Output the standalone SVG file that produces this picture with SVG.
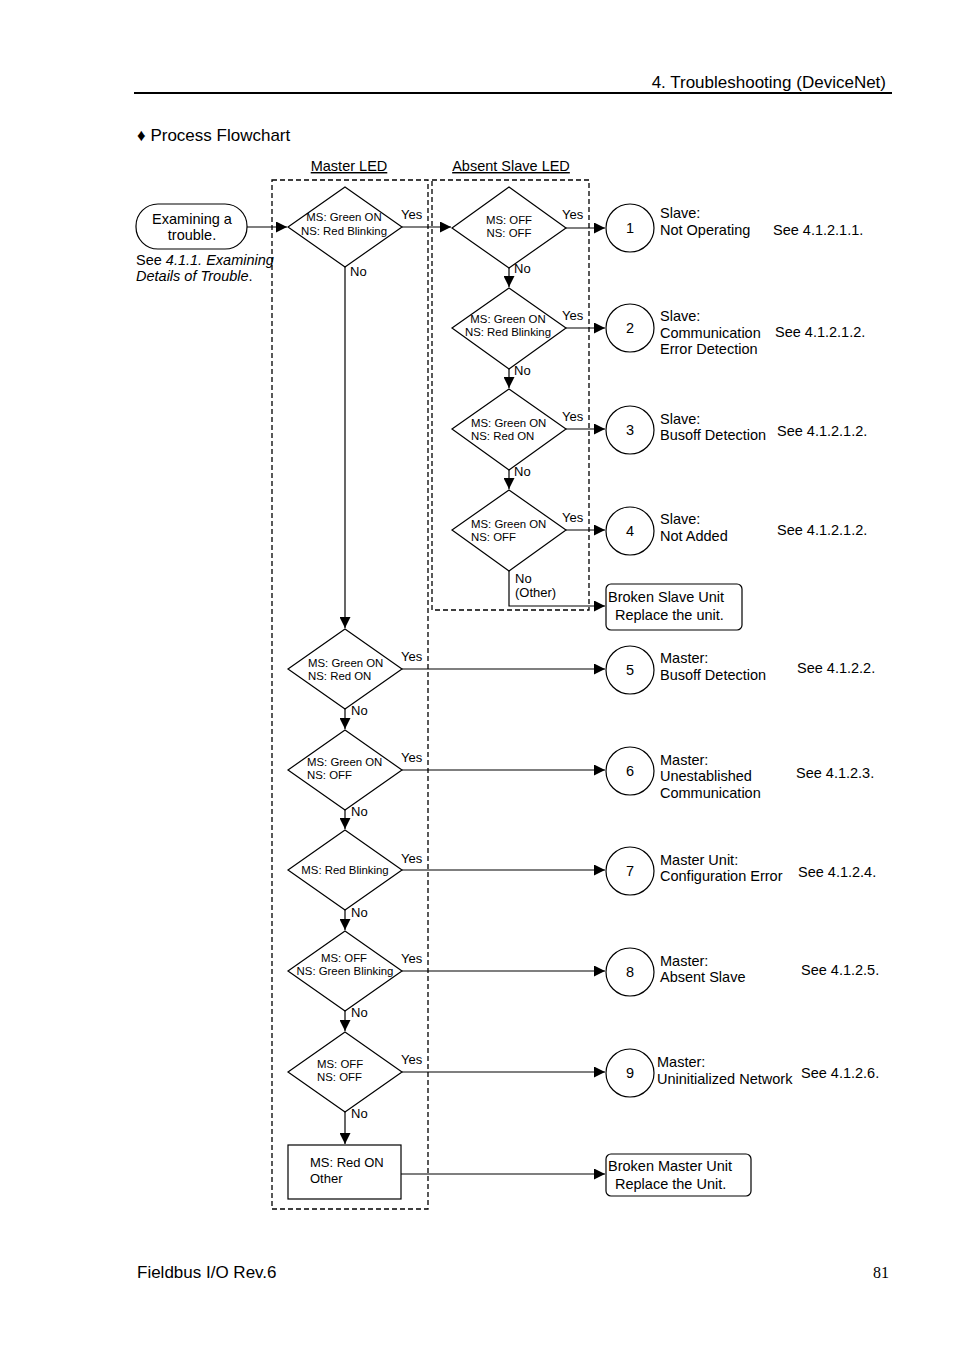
<svg xmlns="http://www.w3.org/2000/svg" width="954" height="1351" viewBox="0 0 954 1351">
<defs>
<marker id="ah" markerWidth="12" markerHeight="11" refX="11" refY="5.5" orient="auto" markerUnits="userSpaceOnUse">
<path d="M0,0 L11,5.5 L0,11 Z" fill="#000"/>
</marker>
</defs>
<style>
text{font-family:"Liberation Sans",Arial,sans-serif;fill:#000}
.h{font-size:17px}
.m{font-size:14.5px}
.d{font-size:11.4px}
.yn{font-size:13px}
.shape{fill:#fff;stroke:#000;stroke-width:1.2}
.conn{fill:none;stroke:#000;stroke-width:1.2;marker-end:url(#ah)}
.plain{fill:none;stroke:#000;stroke-width:1.2}
.dash{fill:none;stroke:#000;stroke-width:1.3;stroke-dasharray:5,3}
.c{text-anchor:middle}
</style>
<rect width="954" height="1351" fill="#fff"/>

<!-- header / footer -->
<text class="h" x="886" y="88" text-anchor="end">4. Troubleshooting (DeviceNet)</text>
<line x1="134" y1="93" x2="892" y2="93" stroke="#000" stroke-width="2"/>
<text class="h" x="137" y="141">♦ Process Flowchart</text>
<text class="h" x="137" y="1278">Fieldbus I/O Rev.6</text>
<text x="889" y="1278" text-anchor="end" style="font-family:'Liberation Serif','Times New Roman',serif;font-size:16px">81</text>

<!-- group boxes -->
<g id="group-master">
<rect class="dash" x="272" y="180" width="156" height="1029"/>
<text class="m c" x="349" y="171" text-decoration="underline">Master LED</text>
</g>
<g id="group-slave">
<rect class="dash" x="432" y="180" width="157" height="430"/>
<text class="m c" x="511" y="171" text-decoration="underline">Absent Slave LED</text>
</g>

<!-- connectors -->
<g id="connectors">
<line class="conn" x1="247" y1="227" x2="287" y2="227"/>
<line class="conn" x1="402" y1="227" x2="451" y2="227"/>
<line class="conn" x1="345" y1="267" x2="345" y2="628"/>
<line class="conn" x1="566" y1="228" x2="605" y2="228"/>
<line class="conn" x1="509" y1="268" x2="509" y2="287"/>
<line class="conn" x1="566" y1="328" x2="605" y2="328"/>
<line class="conn" x1="509" y1="369" x2="509" y2="388"/>
<line class="conn" x1="566" y1="429" x2="605" y2="429"/>
<line class="conn" x1="509" y1="470" x2="509" y2="489"/>
<line class="conn" x1="566" y1="530" x2="605" y2="530"/>
<polyline class="conn" points="509,571 509,606 605,606"/>
<line class="conn" x1="402" y1="669" x2="605" y2="669"/>
<line class="conn" x1="345" y1="709" x2="345" y2="729"/>
<line class="conn" x1="402" y1="770" x2="605" y2="770"/>
<line class="conn" x1="345" y1="810" x2="345" y2="829"/>
<line class="conn" x1="402" y1="870" x2="605" y2="870"/>
<line class="conn" x1="345" y1="910" x2="345" y2="930"/>
<line class="conn" x1="402" y1="971" x2="605" y2="971"/>
<line class="conn" x1="345" y1="1011" x2="345" y2="1031"/>
<line class="conn" x1="402" y1="1072" x2="605" y2="1072"/>
<line class="conn" x1="345" y1="1112" x2="345" y2="1144"/>
<line class="conn" x1="401" y1="1174" x2="605" y2="1174"/>
<g class="yn">
<text x="401" y="219">Yes</text>
<text x="350" y="276">No</text>
<text x="562" y="219">Yes</text>
<text x="514" y="273">No</text>
<text x="562" y="320">Yes</text>
<text x="514" y="375">No</text>
<text x="562" y="421">Yes</text>
<text x="514" y="476">No</text>
<text x="562" y="522">Yes</text>
<text x="515" y="583">No</text>
<text x="515" y="597">(Other)</text>
<text x="401" y="661">Yes</text>
<text x="351" y="715">No</text>
<text x="401" y="762">Yes</text>
<text x="351" y="816">No</text>
<text x="401" y="863">Yes</text>
<text x="351" y="917">No</text>
<text x="401" y="963">Yes</text>
<text x="351" y="1017">No</text>
<text x="401" y="1064">Yes</text>
<text x="351" y="1118">No</text>
</g>
</g>

<!-- start -->
<g id="start">
<rect class="shape" x="136" y="204" width="111" height="45" rx="22" ry="22"/>
<text class="m c" x="192" y="224">Examining a</text>
<text class="m c" x="192" y="240">trouble.</text>
<text class="m" x="136" y="265">See <tspan font-style="italic">4.1.1. Examining</tspan></text>
<text class="m" x="136" y="281"><tspan font-style="italic">Details of Trouble</tspan>.</text>
</g>

<!-- master diamonds -->
<g id="m1"><polygon class="shape" points="345,187 402,227 345,267 288,227"/>
<text class="d c" x="344" y="221">MS: Green ON</text><text class="d c" x="344" y="235">NS: Red Blinking</text></g>
<g id="m2"><polygon class="shape" points="345,629 402,669 345,709 288,669"/>
<text class="d" x="308" y="667">MS: Green ON</text><text class="d" x="308" y="680">NS: Red ON</text></g>
<g id="m3"><polygon class="shape" points="345,730 402,770 345,810 288,770"/>
<text class="d" x="307" y="766">MS: Green ON</text><text class="d" x="307" y="779">NS: OFF</text></g>
<g id="m4"><polygon class="shape" points="345,830 402,870 345,910 288,870"/>
<text class="d c" x="345" y="874">MS: Red Blinking</text></g>
<g id="m5"><polygon class="shape" points="345,931 402,971 345,1011 288,971"/>
<text class="d c" x="344" y="962">MS: OFF</text><text class="d c" x="345" y="975">NS: Green Blinking</text></g>
<g id="m6"><polygon class="shape" points="345,1032 402,1072 345,1112 288,1072"/>
<text class="d" x="317" y="1068">MS: OFF</text><text class="d" x="317" y="1081">NS: OFF</text></g>
<g id="m7"><rect class="shape" x="288" y="1145" width="113" height="54"/>
<text x="310" y="1167" style="font-size:13px">MS: Red ON</text><text x="310" y="1183" style="font-size:13px">Other</text></g>

<!-- slave diamonds -->
<g id="s1"><polygon class="shape" points="509,187 566,228 509,268 452,228"/>
<text class="d c" x="509" y="224">MS: OFF</text><text class="d c" x="509" y="237">NS: OFF</text></g>
<g id="s2"><polygon class="shape" points="509,288 566,328 509,369 452,328"/>
<text class="d c" x="508" y="323">MS: Green ON</text><text class="d c" x="508" y="336">NS: Red Blinking</text></g>
<g id="s3"><polygon class="shape" points="509,389 566,429 509,470 452,429"/>
<text class="d" x="471" y="427">MS: Green ON</text><text class="d" x="471" y="440">NS: Red ON</text></g>
<g id="s4"><polygon class="shape" points="509,490 566,530 509,571 452,530"/>
<text class="d" x="471" y="528">MS: Green ON</text><text class="d" x="471" y="541">NS: OFF</text></g>

<!-- results -->
<g id="r1"><circle class="shape" cx="630" cy="228" r="24"/><text class="m c" x="630" y="233">1</text>
<text class="m" x="660" y="218">Slave:</text><text class="m" x="660" y="235">Not Operating</text><text class="m" x="773" y="235">See 4.1.2.1.1.</text></g>
<g id="r2"><circle class="shape" cx="630" cy="328" r="24"/><text class="m c" x="630" y="333">2</text>
<text class="m" x="660" y="321">Slave:</text><text class="m" x="660" y="338">Communication</text><text class="m" x="660" y="354">Error Detection</text><text class="m" x="775" y="337">See 4.1.2.1.2.</text></g>
<g id="r3"><circle class="shape" cx="630" cy="430" r="24"/><text class="m c" x="630" y="435">3</text>
<text class="m" x="660" y="424">Slave:</text><text class="m" x="660" y="440">Busoff Detection</text><text class="m" x="777" y="436">See 4.1.2.1.2.</text></g>
<g id="r4"><circle class="shape" cx="630" cy="531" r="24"/><text class="m c" x="630" y="536">4</text>
<text class="m" x="660" y="524">Slave:</text><text class="m" x="660" y="541">Not Added</text><text class="m" x="777" y="535">See 4.1.2.1.2.</text></g>
<g id="rs"><rect class="shape" x="606" y="584" width="136" height="46" rx="5" ry="5"/>
<text class="m" x="608" y="602">Broken Slave Unit</text><text class="m" x="615" y="620">Replace the unit.</text></g>
<g id="r5"><circle class="shape" cx="630" cy="670" r="24"/><text class="m c" x="630" y="675">5</text>
<text class="m" x="660" y="663">Master:</text><text class="m" x="660" y="680">Busoff Detection</text><text class="m" x="797" y="673">See 4.1.2.2.</text></g>
<g id="r6"><circle class="shape" cx="630" cy="771" r="24"/><text class="m c" x="630" y="776">6</text>
<text class="m" x="660" y="765">Master:</text><text class="m" x="660" y="781">Unestablished</text><text class="m" x="660" y="798">Communication</text><text class="m" x="796" y="778">See 4.1.2.3.</text></g>
<g id="r7"><circle class="shape" cx="630" cy="871" r="24"/><text class="m c" x="630" y="876">7</text>
<text class="m" x="660" y="865">Master Unit:</text><text class="m" x="660" y="881">Configuration Error</text><text class="m" x="798" y="877">See 4.1.2.4.</text></g>
<g id="r8"><circle class="shape" cx="630" cy="972" r="24"/><text class="m c" x="630" y="977">8</text>
<text class="m" x="660" y="966">Master:</text><text class="m" x="660" y="982">Absent Slave</text><text class="m" x="801" y="975">See 4.1.2.5.</text></g>
<g id="r9"><circle class="shape" cx="630" cy="1073" r="24"/><text class="m c" x="630" y="1078">9</text>
<text class="m" x="657" y="1067">Master:</text><text class="m" x="657" y="1084">Uninitialized Network</text><text class="m" x="801" y="1078">See 4.1.2.6.</text></g>
<g id="rm"><rect class="shape" x="606" y="1154" width="145" height="42" rx="5" ry="5"/>
<text class="m" x="608" y="1171">Broken Master Unit</text><text class="m" x="615" y="1189">Replace the Unit.</text></g>
</svg>
